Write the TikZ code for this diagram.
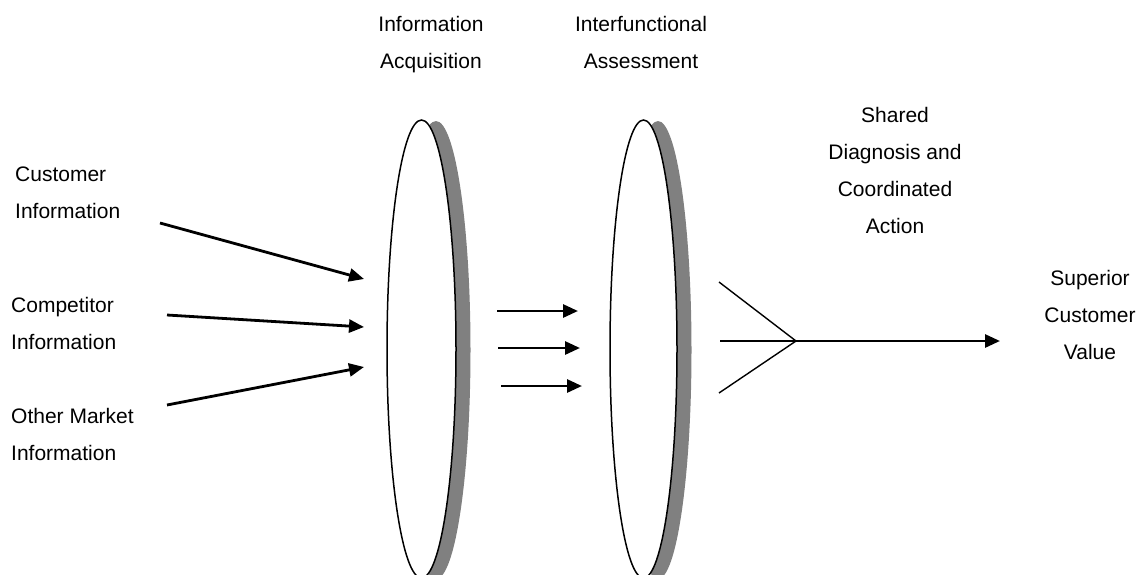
\documentclass[tikz,border=0pt]{standalone}
\usepackage{fontspec}
\setmainfont{Liberation Sans}
\usetikzlibrary{arrows.meta}
\begin{document}
\begin{tikzpicture}[x=1pt,y=-1pt,
  lbl/.style={inner sep=0pt,font=\fontsize{21}{24}\selectfont},
  flow/.style={line width=2.8pt,-{Triangle[length=15pt,width=13pt]}},
  branch/.style={line width=1.4pt},
  lens/.style={fill=white,draw=black,line width=1.5pt},
  lensedge/.style={fill=black!50,draw=none}]
\useasboundingbox (0,0) rectangle (1144,574);
\clip (0,0) rectangle (1144,574);

% lenses with grey rims
\fill[lensedge] (436,350) ellipse [x radius=34.5, y radius=229];
\draw[lens] (421.5,349) ellipse [x radius=34.5, y radius=229];
\fill[lensedge] (658,350) ellipse [x radius=33.5, y radius=229];
\draw[lens] (643.5,349) ellipse [x radius=33.5, y radius=229];

% input labels
\node[lbl,anchor=base west] (ci1) at (15,181) {Customer};
\node[lbl,anchor=base west] (ci2) at (15,218) {Information};
\node[lbl,anchor=base west] (co1) at (11,312) {Competitor};
\node[lbl,anchor=base west] (co2) at (11,349) {Information};
\node[lbl,anchor=base west] (om1) at (11,423) {Other Market};
\node[lbl,anchor=base west] (om2) at (11,460) {Information};

% stage labels
\node[lbl,anchor=base] (ia1) at (431,31) {Information};
\node[lbl,anchor=base] (ia2) at (431,68) {Acquisition};
\node[lbl,anchor=base] (fa1) at (641,31) {Interfunctional};
\node[lbl,anchor=base] (fa2) at (641,68) {Assessment};
\node[lbl,anchor=base] (sd1) at (895,122) {Shared};
\node[lbl,anchor=base] (sd2) at (895,159) {Diagnosis and};
\node[lbl,anchor=base] (sd3) at (895,196) {Coordinated};
\node[lbl,anchor=base] (sd4) at (895,233) {Action};
\node[lbl,anchor=base] (sv1) at (1090,285) {Superior};
\node[lbl,anchor=base] (sv2) at (1090,322) {Customer};
\node[lbl,anchor=base] (sv3) at (1090,359) {Value};

% arrow end points
\coordinate (a1s) at (160,223);  \coordinate (a1e) at (364,279);
\coordinate (a2s) at (167,315);  \coordinate (a2e) at (364,327);
\coordinate (a3s) at (167,405);  \coordinate (a3e) at (364,367);
\coordinate (b1s) at (497,311);  \coordinate (b1e) at (578,311);
\coordinate (b2s) at (498,348);  \coordinate (b2e) at (580,348);
\coordinate (b3s) at (501,386);  \coordinate (b3e) at (582,386);
\coordinate (fu) at (719,282);
\coordinate (fm) at (720,341);
\coordinate (fl) at (719,393);
\coordinate (fj) at (796,341);
\coordinate (out) at (1000,341);

% incoming information
\draw[flow] (a1s) -- (a1e);
\draw[flow] (a2s) -- (a2e);
\draw[flow] (a3s) -- (a3e);

% passing between stages
\draw[flow] (b1s) -- (b1e);
\draw[flow] (b2s) -- (b2e);
\draw[flow] (b3s) -- (b3e);

% converging into one output
\draw[branch] (fu) -- (fj);
\draw[branch] (fl) -- (fj);
\draw[line width=2.8pt] (fm) -- (fj);
\draw[flow] (fj) -- (out);
\end{tikzpicture}
\end{document}
